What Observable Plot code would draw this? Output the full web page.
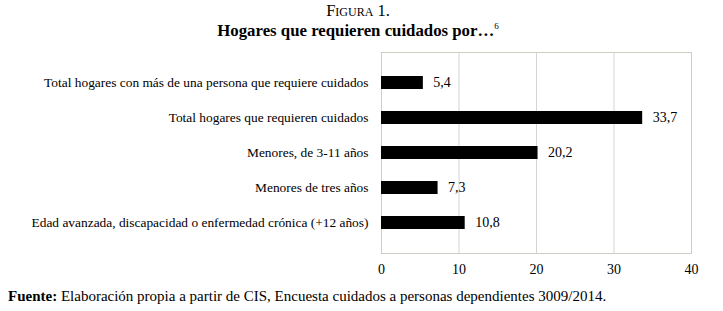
<!DOCTYPE html>
<html>
<head>
<meta charset="utf-8">
<script src="https://cdn.jsdelivr.net/npm/d3@7"></script>
<script src="https://cdn.jsdelivr.net/npm/@observablehq/plot@0.6"></script>
<style>
  body { margin: 0; background: #fff; font-family: "Liberation Serif", "DejaVu Serif", serif; color: #000; }
  #wrap { width: 723px; height: 311px; position: relative; overflow: hidden; }
  .fig { position: absolute; top: 1px; left: 0; width: 716px; text-align: center; font-size: 16.5px; font-variant: small-caps; }
  .title { position: absolute; top: 21px; left: 0; width: 716px; text-align: center; font-size: 16.8px; font-weight: bold; }
  .title sup { font-size: 9px; font-weight: normal; vertical-align: 7px; }
  #chart { position: absolute; top: 45px; left: 0; }
  .cap { position: absolute; top: 288px; left: 8px; font-size: 15px; white-space: nowrap; }
</style>
</head>
<body>
<div id="wrap">
  <div class="fig">Figura 1.</div>
  <div class="title">Hogares que requieren cuidados por…<sup>6</sup></div>
  <div id="chart"></div>
  <div class="cap"><b>Fuente:</b> Elaboración propia a partir de CIS, Encuesta cuidados a personas dependientes 3009/2014.</div>
</div>
<script>
const categories = [
  "Total hogares con más de una persona que requiere cuidados",
  "Total hogares que requieren cuidados",
  "Menores, de 3-11 años",
  "Menores de tres años",
  "Edad avanzada, discapacidad o enfermedad crónica (+12 años)"
];
const values = [5.4, 33.7, 20.2, 7.3, 10.8];
const xTicks = [0, 10, 20, 30, 40];

const data = categories.map((c, i) => ({category: c, value: values[i]}));
const fmt = v => v.toFixed(1).replace(".", ",");

const plot = Plot.plot({
  width: 723,
  height: 238,
  marginTop: 7,
  marginBottom: 30,
  marginLeft: 381,
  marginRight: 32,
  style: { fontFamily: "Liberation Serif, DejaVu Serif, serif", fontSize: "13px", color: "#000", background: "#fff" },
  x: { domain: [0, 40], ticks: xTicks, label: null },
  y: { domain: categories, padding: 0.62, label: null },
  marks: [
    Plot.gridX(xTicks.slice(1, -1), { stroke: "#d4d4d4", strokeOpacity: 1 }),
    Plot.frame({ stroke: "#c9cfc2" }),
    Plot.barX(data, { x: "value", y: "category", fill: "#000" }),
    Plot.text(data, { x: "value", y: "category", text: d => fmt(d.value), dx: 10, textAnchor: "start", fontSize: 14, fill: "#000" }),
    Plot.axisX(xTicks, { tickSize: 0, tickPadding: 11, fontSize: 14, label: null }),
    Plot.axisY({ tickSize: 0, tickPadding: 13, fontSize: 13.4, label: null })
  ]
});
document.getElementById("chart").appendChild(plot);
</script>
</body>
</html>
